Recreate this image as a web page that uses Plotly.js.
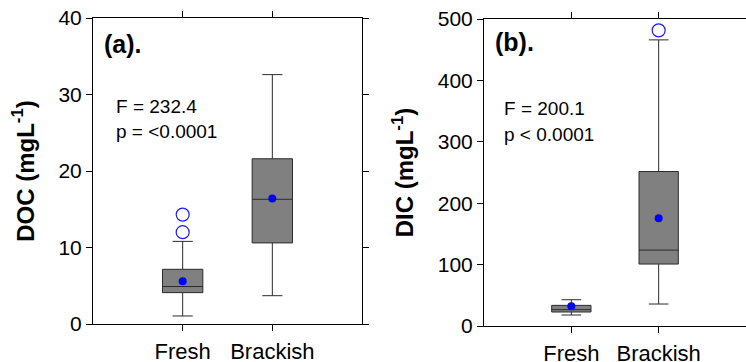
<!DOCTYPE html>
<html>
<head>
<meta charset="utf-8">
<script src="https://cdn.plot.ly/plotly-3.0.1.min.js"></script>
<style>html,body{margin:0;padding:0;background:#fff;}#chart{width:746px;height:362px;}</style>
</head>
<body>
<div id="chart"></div>
<script>
const categories = ['Fresh', 'Brackish'];

// Panel (a) DOC (mg L-1)
const docQ1 = [4.1, 10.6];
const docMedian = [4.9, 16.3];
const docQ3 = [7.15, 21.6];
const docLower = [1.05, 3.7];
const docUpper = [10.8, 32.6];
const docMean = [5.6, 16.4];
const docOutlierCat = ['Fresh', 'Fresh'];
const docOutlierVal = [12.0, 14.3];

// Panel (b) DIC (mg L-1)
const dicQ1 = [22.8, 100.9];
const dicMedian = [26.6, 123.6];
const dicQ3 = [33.6, 251.6];
const dicLower = [17.9, 35.8];
const dicUpper = [42.8, 466];
const dicMean = [32.0, 175.5];
const dicOutlierCat = ['Brackish'];
const dicOutlierVal = [481.5];

const FONT = 'Liberation Sans, Arial, sans-serif';

function boxTrace(q1, med, q3, lo, hi, xa, ya) {
  return {
    type: 'box', x: categories, q1: q1, median: med, q3: q3,
    lowerfence: lo, upperfence: hi,
    fillcolor: '#808080', line: {color: '#2b2b2b', width: 1},
    whiskerwidth: 0.5, width: 0.45, boxpoints: false,
    xaxis: xa, yaxis: ya, showlegend: false, hoverinfo: 'skip'
  };
}
function meanTrace(vals, xa, ya) {
  return {type: 'scatter', mode: 'markers', x: categories, y: vals,
    marker: {color: '#0000ff', size: 8}, xaxis: xa, yaxis: ya, showlegend: false};
}
function outTrace(cats, vals, xa, ya) {
  return {type: 'scatter', mode: 'markers', x: cats, y: vals,
    marker: {symbol: 'circle-open', color: '#1a1aff', size: 13, line: {width: 1.2}},
    xaxis: xa, yaxis: ya, showlegend: false};
}

const data = [
  boxTrace(docQ1, docMedian, docQ3, docLower, docUpper, 'x', 'y'),
  meanTrace(docMean, 'x', 'y'),
  outTrace(docOutlierCat, docOutlierVal, 'x', 'y'),
  boxTrace(dicQ1, dicMedian, dicQ3, dicLower, dicUpper, 'x2', 'y2'),
  meanTrace(dicMean, 'x2', 'y2'),
  outTrace(dicOutlierCat, dicOutlierVal, 'x2', 'y2')
];

const W = 746, H = 362;
function xax(d0, d1, anchor) {
  return {type: 'category', categoryarray: categories, range: [-1, 2],
    domain: [d0 / W, d1 / W], anchor: anchor,
    showline: true, linecolor: '#000', linewidth: 1, mirror: 'ticks',
    ticks: 'outside', ticklen: 6, tickcolor: '#000', ticklabelstandoff: 2,
    tickfont: {family: FONT, size: 22, color: '#000'},
    showgrid: false, zeroline: false, fixedrange: true};
}
function yax(top, bottom, rng, dt, anchor, title) {
  return {range: rng, dtick: dt, domain: [(H - bottom) / H, (H - top) / H], anchor: anchor,
    showline: true, linecolor: '#000', linewidth: 1, mirror: 'ticks',
    ticks: 'outside', ticklen: 6, tickcolor: '#000',
    tickfont: {family: FONT, size: 21, color: '#000'},
    title: {text: title, font: {family: FONT, size: 24, color: '#000'}, standoff: 17},
    showgrid: false, zeroline: false, fixedrange: true};
}

const layout = {
  width: W, height: H,
  margin: {l: 0, r: 0, t: 0, b: 0},
  paper_bgcolor: '#fff', plot_bgcolor: '#fff',
  showlegend: false,
  xaxis: xax(93, 362, 'y'),
  yaxis: yax(18, 324, [0, 40], 10, 'x', '<b>DOC (mgL<sup>-1</sup>)</b>'),
  xaxis2: xax(484, 746, 'y2'),
  yaxis2: yax(19, 326, [0, 500], 100, 'x2', '<b>DIC (mgL<sup>-1</sup>)</b>'),
  annotations: [
    {xref: 'paper', yref: 'paper', x: 102 / W, y: (H - 44) / H, xanchor: 'left', yanchor: 'middle',
      text: '<b>(a).</b>', showarrow: false, font: {family: FONT, size: 25, color: '#000'}},
    {xref: 'paper', yref: 'paper', x: 114 / W, y: (H - 107) / H, xanchor: 'left', yanchor: 'middle',
      text: 'F = 232.4', showarrow: false, font: {family: FONT, size: 19, color: '#000'}},
    {xref: 'paper', yref: 'paper', x: 114 / W, y: (H - 132) / H, xanchor: 'left', yanchor: 'middle',
      text: 'p = &lt;0.0001', showarrow: false, font: {family: FONT, size: 19, color: '#000'}},
    {xref: 'paper', yref: 'paper', x: 493 / W, y: (H - 42) / H, xanchor: 'left', yanchor: 'middle',
      text: '<b>(b).</b>', showarrow: false, font: {family: FONT, size: 25, color: '#000'}},
    {xref: 'paper', yref: 'paper', x: 502 / W, y: (H - 109) / H, xanchor: 'left', yanchor: 'middle',
      text: 'F = 200.1', showarrow: false, font: {family: FONT, size: 19, color: '#000'}},
    {xref: 'paper', yref: 'paper', x: 502 / W, y: (H - 134) / H, xanchor: 'left', yanchor: 'middle',
      text: 'p &lt; 0.0001', showarrow: false, font: {family: FONT, size: 19, color: '#000'}}
  ]
};

Plotly.newPlot('chart', data, layout, {displayModeBar: false, staticPlot: true});
</script>
</body>
</html>
